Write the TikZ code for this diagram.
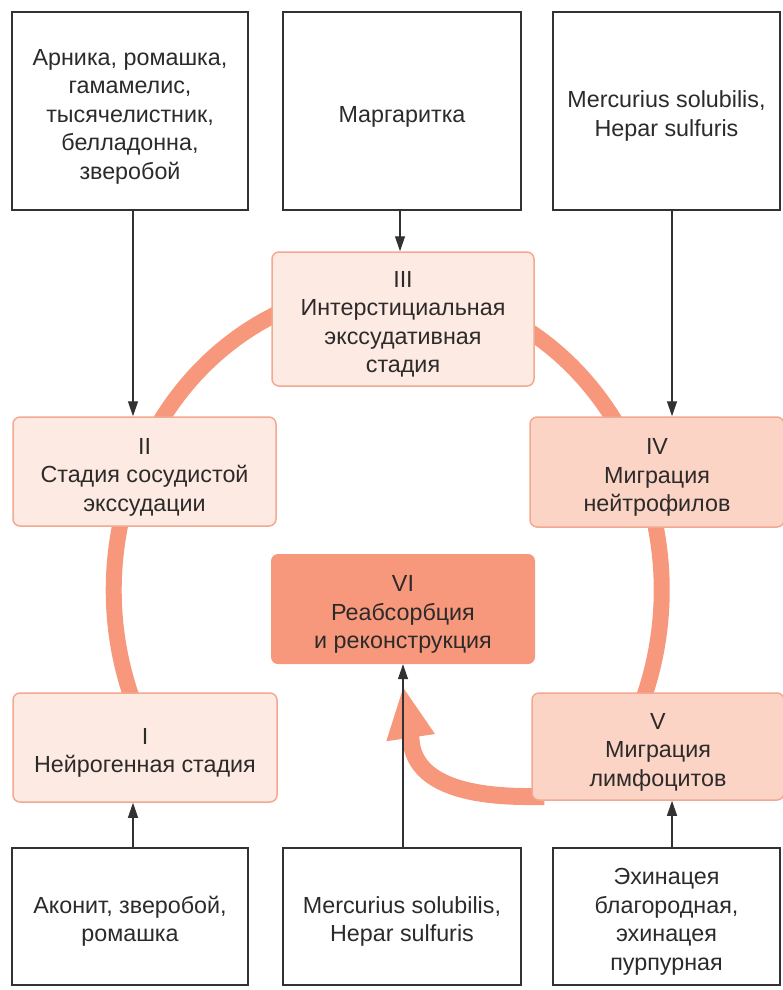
\documentclass[tikz,border=0pt]{standalone}
\usepackage{fontspec}
\setmainfont{Liberation Sans}
\usetikzlibrary{arrows.meta,backgrounds}
\definecolor{salmon}{RGB}{247,152,124}
\definecolor{palefill}{RGB}{253,234,226}
\definecolor{midfill}{RGB}{251,212,198}
\definecolor{stageborder}{RGB}{243,168,145}
\definecolor{boxline}{RGB}{50,50,50}
\definecolor{txt}{RGB}{45,42,42}
\newcommand\Tup{\rule{0pt}{27pt}}
\begin{document}
\begin{tikzpicture}[x=1pt,y=-1pt,
  every node/.style={font=\fontsize{23.3}{28.5}\selectfont, text=txt, align=center, inner sep=0pt, rectangle},
  srcbox/.style={draw=boxline, line width=1.4pt, fill=white},
  stagebox/.style={draw=stageborder, line width=1.5pt, fill=palefill, rounded corners=7pt},
  stagemid/.style={stagebox, fill=midfill},
  stagedark/.style={draw=none, fill=salmon, rounded corners=7pt},
  thinarrow/.style={draw=boxline, line width=1.3pt, -{Triangle[width=10pt,length=15pt]}},
  ring/.style={draw=salmon, line width=16pt},
  bigarrow/.style={draw=salmon, fill=none, line width=17pt, -{Triangle[width=45pt,length=52pt]}}
]
\useasboundingbox (0,0) rectangle (782,990);

% source boxes
\node[srcbox, minimum width=236pt, minimum height=198pt] (A) at (130,111)
  {\Tup Арника, ромашка,\\гамамелис,\\тысячелистник,\\белладонна,\\зверобой};
\node[srcbox, minimum width=238pt, minimum height=198pt] (B) at (402,111) {\Tup Маргаритка};
\node[srcbox, minimum width=227pt, minimum height=198pt] (C) at (666.5,111)
  {\Tup Mercurius solubilis,\\Hepar sulfuris};
\node[srcbox, minimum width=236pt, minimum height=137pt] (D) at (130,916.5)
  {\Tup Аконит, зверобой,\\ромашка};
\node[srcbox, minimum width=238pt, minimum height=137pt] (E) at (402,916.5)
  {\Tup Mercurius solubilis,\\Hepar sulfuris};
\node[srcbox, minimum width=227pt, minimum height=137pt] (F) at (666.5,916.5)
  {\Tup Эхинацея\\благородная,\\эхинацея\\пурпурная};

% stage boxes
\node[stagebox, minimum width=262pt, minimum height=134pt] (S3) at (403,319)
  {\Tup III\\Интерстициальная\\экссудативная\\стадия};
\node[stagebox, minimum width=263pt, minimum height=109pt] (S2) at (144.5,471.5)
  {\Tup II\\Стадия сосудистой\\экссудации};
\node[stagemid, minimum width=254pt, minimum height=110pt] (S4) at (657,472)
  {\Tup IV\\Миграция\\нейтрофилов};
\node[stagedark, minimum width=264pt, minimum height=110pt] (S6) at (403,609)
  {\Tup VI\\Реабсорбция\\и реконструкция};
\node[stagebox, minimum width=264pt, minimum height=109pt] (S1) at (145,747.5)
  {\Tup I\\Нейрогенная стадия};
\node[stagemid, minimum width=252pt, minimum height=107pt] (S5) at (658,746.5)
  {\Tup V\\Миграция\\лимфоцитов};

\begin{scope}[on background layer]
  % cycle ring
  \draw[ring] (150,740) arc[start angle=150.2, end angle=389.8, x radius=274, y radius=302];
  % thick arrow V -> VI
  \draw[bigarrow] ([xshift=13pt,yshift=-50pt]S5.west) -- ([yshift=-50pt]S5.west)
    .. controls (455,797) and (414,778) .. (411,740) -- ([yshift=-22pt]S6.south);
\end{scope}

% thin arrows
\draw[thinarrow] ([xshift=3pt]A.south) -- ([xshift=3pt]A.south |- S2.north);
\draw[thinarrow] ([xshift=-2pt]B.south) -- ([xshift=-2pt]B.south |- S3.north);
\draw[thinarrow] ([xshift=5.5pt]C.south) -- ([xshift=5.5pt]C.south |- S4.north);
\draw[thinarrow] ([xshift=3pt]D.north) -- ([xshift=3pt]D.north |- S1.south);
\draw[thinarrow] ([xshift=1pt]E.north) -- ([xshift=1pt]E.north |- S6.south);
\draw[thinarrow] ([xshift=5.5pt]F.north) -- ([xshift=5.5pt]F.north |- S5.south);
\end{tikzpicture}
\end{document}
